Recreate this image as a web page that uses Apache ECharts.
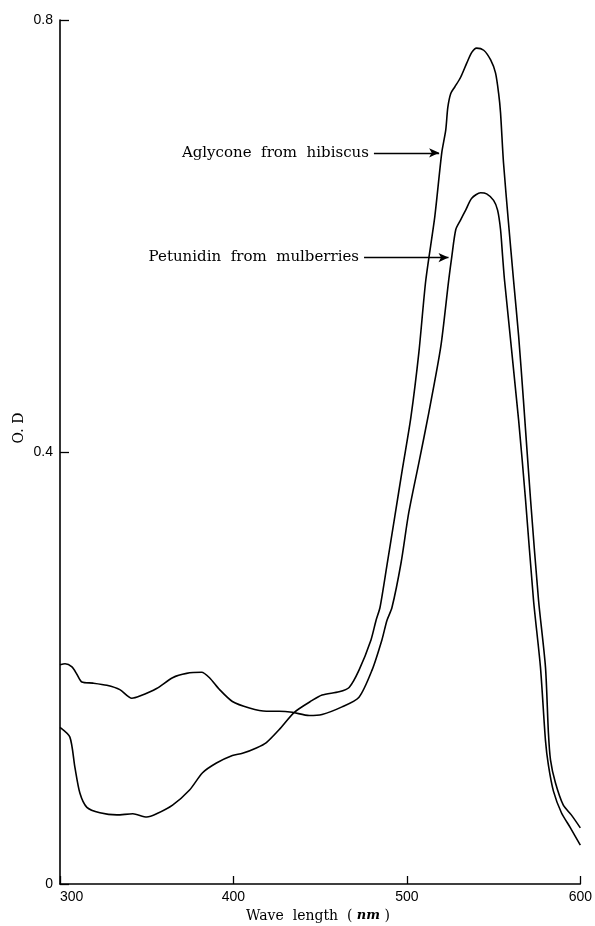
<!DOCTYPE html>
<html>
<head>
<meta charset="utf-8">
<script src="https://cdn.jsdelivr.net/npm/echarts@6/dist/echarts.min.js"></script>
<style>
html,body{margin:0;padding:0;background:#fff;}
#chart{width:595px;height:926px;}
</style>
</head>
<body>
<div id="chart"></div>
<script>
// Wavelength ticks
const xTicks = [300, 400, 500, 600];
const yTicks = [0, 0.4, 0.8];

// Aglycone from hibiscus
const aglyconeX = [300.0, 305.7, 308.6, 311.5, 315.5, 323.0, 332.8, 342.0, 350.0, 355.7, 364.9, 374.7, 382.2, 390.2, 399.4, 405.2, 413.2, 419.0, 426.4, 435.1, 445.4, 451.1, 460.9, 466.7, 472.4, 479.3, 482.2, 484.5, 488.5, 493.0, 497.5, 502.3, 506.9, 510.9, 516.1, 520.1, 522.4, 523.6, 525.3, 527.6, 531.0, 534.5, 537.4, 540.2, 544.3, 548.3, 551.1, 552.9, 554.0, 555.7, 558.6, 561.5, 564.4, 567.2, 571.3, 575.9, 579.9, 581.6, 582.8, 585.6, 590.2, 594.8, 600.0];
const aglyconeY = [0.145, 0.136, 0.108, 0.084, 0.071, 0.066, 0.064, 0.065, 0.062, 0.065, 0.073, 0.087, 0.103, 0.112, 0.119, 0.121, 0.126, 0.131, 0.143, 0.159, 0.170, 0.175, 0.178, 0.182, 0.198, 0.226, 0.244, 0.256, 0.295, 0.340, 0.385, 0.432, 0.492, 0.559, 0.618, 0.677, 0.698, 0.719, 0.732, 0.738, 0.747, 0.760, 0.770, 0.774, 0.772, 0.763, 0.751, 0.732, 0.714, 0.668, 0.612, 0.559, 0.508, 0.448, 0.356, 0.263, 0.201, 0.140, 0.115, 0.094, 0.073, 0.064, 0.052];

// Petunidin from mulberries
const petunidinX = [300.0, 302.9, 306.9, 309.8, 312.6, 319.0, 327.0, 334.5, 341.4, 346.0, 355.7, 364.9, 373.0, 381.6, 386.2, 392.0, 399.4, 409.2, 419.0, 426.4, 433.9, 443.7, 451.1, 462.6, 472.4, 479.9, 485.6, 488.5, 491.4, 496.6, 501.1, 506.9, 512.6, 519.5, 524.1, 525.9, 528.2, 531.0, 533.9, 537.4, 542.5, 546.0, 550.0, 552.3, 554.0, 555.2, 556.3, 564.4, 568.4, 573.0, 577.0, 579.9, 581.6, 584.5, 589.1, 594.3, 600.0];
const petunidinY = [0.203, 0.204, 0.201, 0.194, 0.187, 0.186, 0.184, 0.180, 0.172, 0.174, 0.181, 0.191, 0.195, 0.196, 0.191, 0.180, 0.169, 0.163, 0.160, 0.160, 0.159, 0.156, 0.157, 0.164, 0.173, 0.198, 0.226, 0.244, 0.256, 0.297, 0.344, 0.390, 0.436, 0.497, 0.559, 0.581, 0.606, 0.615, 0.624, 0.635, 0.640, 0.639, 0.633, 0.624, 0.606, 0.581, 0.559, 0.430, 0.356, 0.263, 0.201, 0.133, 0.110, 0.086, 0.066, 0.052, 0.036];

// Annotation labels
const labelAglycone = 'Aglycone  from  hibiscus';
const labelPetunidin = 'Petunidin  from  mulberries';
const arrowAglycone = [[481.0, 0.677], [518.6, 0.677]];
const arrowPetunidin = [[475.3, 0.580], [524.0, 0.580]];

function pairs(xs, ys) { return xs.map((x, i) => [x, ys[i]]); }

const serif = '"DejaVu Serif", "Liberation Serif", serif';
const sans = '"Liberation Sans", Arial, sans-serif';

function arrowLine(pts, text) {
  return {
    silent: true,
    symbol: ['none', 'arrow'],
    symbolSize: [7, 10],
    lineStyle: { color: '#000', width: 1.3, type: 'solid' },
    label: {
      show: true, position: 'start', distance: 5, formatter: text,
      color: '#000', fontFamily: serif, fontSize: 15
    },
    emphasis: { disabled: true },
    data: [[{ coord: pts[0] }, { coord: pts[1] }]]
  };
}

const chart = echarts.init(document.getElementById('chart'), null, { renderer: 'canvas' });
chart.setOption({
  animation: false,
  backgroundColor: '#fff',
  grid: { left: 60, right: 13, top: 20, bottom: 42, containLabel: false },
  xAxis: {
    type: 'value', min: xTicks[0], max: xTicks[xTicks.length - 1], interval: 100,
    axisLine: { lineStyle: { color: '#000', width: 1.6 } },
    axisTick: { inside: true, length: 8, lineStyle: { color: '#000', width: 1.3 } },
    axisLabel: { color: '#000', fontFamily: sans, fontSize: 14, margin: 6, alignMinLabel: 'left' },
    splitLine: { show: false }
  },
  yAxis: {
    type: 'value', min: yTicks[0], max: yTicks[yTicks.length - 1], interval: 0.4,
    axisLine: { show: true, lineStyle: { color: '#000', width: 1.6 } },
    axisTick: { show: true, inside: true, length: 9, lineStyle: { color: '#000', width: 1.3 } },
    axisLabel: { color: '#000', fontFamily: sans, fontSize: 14, margin: 7,
      formatter: v => (v === 0 ? '0' : v.toFixed(1)) },
    splitLine: { show: false }
  },
  graphic: [
    {
      type: 'text', x: 19, y: 428, rotation: Math.PI / 2,
      style: { text: 'O. D', fill: '#000', font: '14px ' + serif, textAlign: 'center', textVerticalAlign: 'middle' }
    },
    {
      type: 'text', x: 318, y: 916,
      style: {
        text: '{a|Wave  length  ( }{b|nm}{a| )}',
        textAlign: 'center', textVerticalAlign: 'middle',
        rich: {
          a: { fontFamily: serif, fontSize: 14, fill: '#000', color: '#000' },
          b: { fontFamily: serif, fontSize: 13, fontStyle: 'italic', fontWeight: 'bold', fill: '#000', color: '#000' }
        }
      }
    }
  ],
  series: [
    {
      name: labelAglycone, type: 'line', data: pairs(aglyconeX, aglyconeY),
      showSymbol: false, smooth: 0.25,
      lineStyle: { color: '#000', width: 1.6 },
      markLine: arrowLine(arrowAglycone, labelAglycone)
    },
    {
      name: labelPetunidin, type: 'line', data: pairs(petunidinX, petunidinY),
      showSymbol: false, smooth: 0.25,
      lineStyle: { color: '#000', width: 1.6 },
      markLine: arrowLine(arrowPetunidin, labelPetunidin)
    }
  ]
});
</script>
</body>
</html>
